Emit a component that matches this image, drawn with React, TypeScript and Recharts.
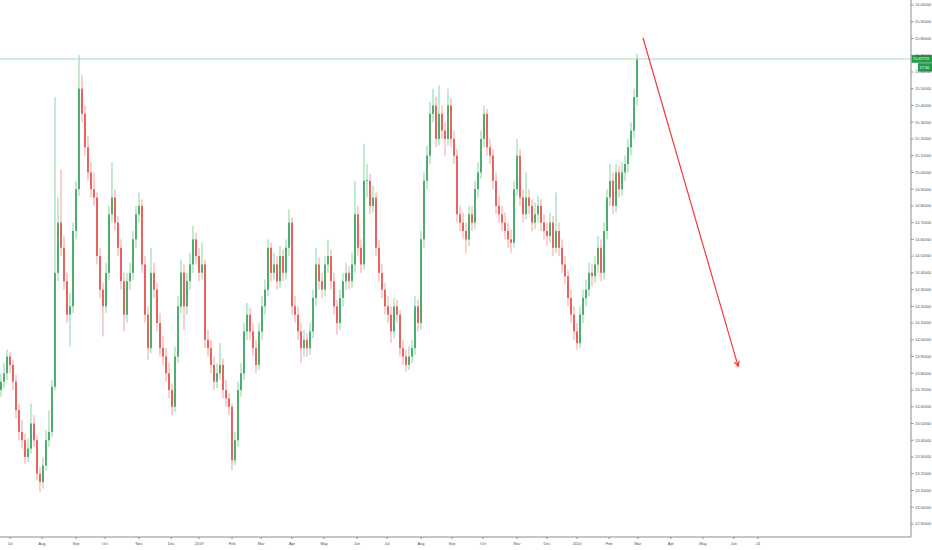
import React from "react";
import { ComposedChart, Bar, XAxis, YAxis, ReferenceLine } from "recharts";

// Daily-ish candles (each ~2 sessions), Jun 2018 - Mar 2020
const OPEN = [
  13.70, 13.75, 13.80, 13.90, 13.85, 13.75, 13.58, 13.45, 13.40, 13.30,
  13.35, 13.50, 13.40, 13.20, 13.15, 13.25, 13.40, 13.45, 13.72, 14.40,
  14.70, 14.55, 14.35, 14.15, 14.20, 14.65, 14.90, 15.50, 15.35, 15.15,
  15.00, 14.90, 14.85, 14.50, 14.30, 14.20, 14.40, 14.75, 14.85, 14.70,
  14.55, 14.35, 14.15, 14.35, 14.40, 14.60, 14.75, 14.80, 14.45, 14.15,
  13.95, 14.40, 14.30, 14.10, 13.95, 13.90, 13.80, 13.70, 13.60, 13.90,
  14.20, 14.40, 14.20, 14.35, 14.45, 14.60, 14.50, 14.40, 14.45, 14.00,
  13.95, 13.85, 13.75, 13.80, 13.85, 13.70, 13.65, 13.60, 13.28, 13.40,
  13.70, 13.80, 14.05, 14.15, 14.05, 13.95, 13.85, 14.05, 14.20, 14.30,
  14.55, 14.40, 14.45, 14.35, 14.50, 14.40, 14.55, 14.70, 14.20, 14.15,
  14.05, 13.95, 14.00, 13.95, 14.05, 14.25, 14.45, 14.35, 14.30, 14.45,
  14.50, 14.35, 14.20, 14.10, 14.25, 14.35, 14.40, 14.35, 14.45, 14.75,
  14.55, 14.45, 14.95, 14.95, 14.80, 14.85, 14.55, 14.40, 14.30, 14.20,
  14.15, 14.05, 14.20, 14.15, 13.95, 13.90, 13.85, 13.90, 13.95, 14.20,
  14.10, 14.60, 14.95, 15.10, 15.35, 15.40, 15.20, 15.35, 15.25, 15.20,
  15.40, 15.20, 15.10, 14.75, 14.70, 14.65, 14.60, 14.75, 14.70, 14.90,
  15.00, 15.20, 15.35, 15.15, 15.10, 14.95, 14.80, 14.75, 14.70, 14.65,
  14.60, 14.58, 14.90, 15.10, 14.85, 14.75, 14.85, 14.80, 14.70, 14.75,
  14.80, 14.70, 14.65, 14.62, 14.70, 14.55, 14.65, 14.55, 14.45, 14.38,
  14.25, 14.15, 14.05, 13.98, 14.15, 14.25, 14.30, 14.40, 14.38, 14.45,
  14.55, 14.40, 14.65, 14.85, 14.95, 14.80, 15.00, 14.90, 15.00, 15.05,
  15.15, 15.25, 15.45,
];
const HIGH = [
  13.80, 13.86, 13.94, 13.93, 13.88, 13.79, 13.62, 13.52, 13.44, 13.41,
  13.62, 13.55, 13.43, 13.24, 13.30, 13.46, 13.58, 13.76, 15.45, 14.85,
  15.02, 14.62, 14.40, 14.28, 14.70, 14.95, 15.70, 15.58, 15.40, 15.22,
  15.06, 15.00, 14.88, 14.55, 14.34, 14.46, 14.80, 15.06, 14.90, 14.74,
  14.60, 14.40, 14.40, 14.46, 14.65, 14.80, 14.88, 14.84, 14.50, 14.20,
  14.55, 14.46, 14.34, 14.16, 14.02, 13.95, 13.86, 13.74, 13.96, 14.26,
  14.48, 14.45, 14.40, 14.52, 14.68, 14.64, 14.55, 14.58, 14.48, 14.06,
  14.00, 13.90, 13.86, 13.98, 13.89, 13.76, 13.68, 13.62, 13.45, 13.75,
  13.86, 14.10, 14.22, 14.19, 14.10, 14.00, 14.10, 14.26, 14.36, 14.60,
  14.58, 14.52, 14.50, 14.56, 14.54, 14.60, 14.78, 14.73, 14.26, 14.20,
  14.10, 14.06, 14.04, 14.10, 14.30, 14.55, 14.49, 14.40, 14.50, 14.60,
  14.54, 14.40, 14.24, 14.30, 14.40, 14.46, 14.44, 14.52, 14.95, 14.80,
  14.60, 15.17, 15.05, 14.99, 14.92, 14.88, 14.60, 14.45, 14.34, 14.26,
  14.20, 14.25, 14.24, 14.18, 14.00, 13.94, 13.96, 14.00, 14.26, 14.24,
  14.65, 15.00, 15.16, 15.42, 15.50, 15.45, 15.52, 15.40, 15.30, 15.50,
  15.44, 15.25, 15.14, 14.80, 14.76, 14.70, 14.80, 14.80, 14.95, 15.06,
  15.25, 15.40, 15.38, 15.20, 15.14, 15.00, 14.86, 14.80, 14.76, 14.70,
  14.66, 14.95, 15.20, 15.14, 14.90, 15.00, 14.90, 14.84, 14.82, 14.86,
  14.84, 14.75, 14.70, 14.76, 14.74, 14.88, 14.70, 14.60, 14.50, 14.42,
  14.30, 14.20, 14.10, 14.20, 14.30, 14.36, 14.46, 14.45, 14.50, 14.62,
  14.60, 14.70, 14.90, 15.05, 15.00, 15.05, 15.04, 15.06, 15.10, 15.20,
  15.30, 15.50, 15.71,
];
const LOW = [
  13.66, 13.71, 13.76, 13.80, 13.70, 13.53, 13.40, 13.35, 13.26, 13.27,
  13.32, 13.36, 13.16, 13.09, 13.11, 13.22, 13.36, 13.42, 13.70, 14.35,
  14.50, 14.30, 14.10, 13.96, 14.16, 14.60, 14.86, 15.30, 15.10, 14.95,
  14.85, 14.80, 14.45, 14.25, 14.02, 14.16, 14.36, 14.70, 14.65, 14.50,
  14.30, 14.05, 14.10, 14.30, 14.36, 14.55, 14.70, 14.40, 14.10, 13.88,
  13.92, 14.25, 14.05, 13.90, 13.85, 13.75, 13.65, 13.55, 13.57, 13.86,
  14.16, 14.06, 14.15, 14.30, 14.40, 14.45, 14.35, 14.36, 13.95, 13.90,
  13.80, 13.70, 13.71, 13.76, 13.65, 13.60, 13.55, 13.22, 13.25, 13.36,
  13.66, 13.76, 14.00, 14.00, 13.90, 13.80, 13.82, 14.00, 14.15, 14.26,
  14.35, 14.36, 14.30, 14.31, 14.35, 14.36, 14.50, 14.15, 14.10, 14.00,
  13.86, 13.90, 13.90, 13.91, 14.01, 14.20, 14.30, 14.25, 14.26, 14.40,
  14.30, 14.15, 14.03, 14.06, 14.20, 14.30, 14.30, 14.31, 14.40, 14.50,
  14.40, 14.42, 14.85, 14.75, 14.76, 14.50, 14.35, 14.25, 14.15, 14.10,
  13.98, 14.01, 14.10, 13.90, 13.85, 13.81, 13.82, 13.86, 13.91, 14.05,
  14.06, 14.55, 14.90, 15.05, 15.30, 15.15, 15.16, 15.20, 15.10, 15.16,
  15.15, 15.05, 14.70, 14.65, 14.60, 14.52, 14.56, 14.65, 14.66, 14.85,
  14.96, 15.15, 15.10, 15.05, 14.90, 14.75, 14.70, 14.65, 14.60, 14.55,
  14.52, 14.55, 14.86, 14.80, 14.70, 14.72, 14.75, 14.65, 14.66, 14.70,
  14.65, 14.60, 14.56, 14.58, 14.50, 14.52, 14.50, 14.40, 14.33, 14.20,
  14.10, 14.00, 13.94, 13.95, 14.10, 14.20, 14.26, 14.32, 14.34, 14.40,
  14.35, 14.36, 14.60, 14.80, 14.75, 14.76, 14.85, 14.86, 14.95, 15.00,
  15.10, 15.20, 15.40,
];
const CLOSE = [
  13.75, 13.80, 13.90, 13.85, 13.75, 13.58, 13.45, 13.40, 13.30, 13.35,
  13.50, 13.40, 13.20, 13.15, 13.25, 13.40, 13.45, 13.72, 14.40, 14.70,
  14.55, 14.35, 14.15, 14.20, 14.65, 14.90, 15.50, 15.35, 15.15, 15.00,
  14.90, 14.85, 14.50, 14.30, 14.20, 14.40, 14.75, 14.85, 14.70, 14.55,
  14.35, 14.15, 14.35, 14.40, 14.60, 14.75, 14.80, 14.45, 14.15, 13.95,
  14.40, 14.30, 14.10, 13.95, 13.90, 13.80, 13.70, 13.60, 13.90, 14.20,
  14.40, 14.20, 14.35, 14.45, 14.60, 14.50, 14.40, 14.45, 14.00, 13.95,
  13.85, 13.75, 13.80, 13.85, 13.70, 13.65, 13.60, 13.28, 13.40, 13.70,
  13.80, 14.05, 14.15, 14.05, 13.95, 13.85, 14.05, 14.20, 14.30, 14.55,
  14.40, 14.45, 14.35, 14.50, 14.40, 14.55, 14.70, 14.20, 14.15, 14.05,
  13.95, 14.00, 13.95, 14.05, 14.25, 14.45, 14.35, 14.30, 14.45, 14.50,
  14.35, 14.20, 14.10, 14.25, 14.35, 14.40, 14.35, 14.45, 14.75, 14.55,
  14.45, 14.95, 14.95, 14.80, 14.85, 14.55, 14.40, 14.30, 14.20, 14.15,
  14.05, 14.20, 14.15, 13.95, 13.90, 13.85, 13.90, 13.95, 14.20, 14.10,
  14.60, 14.95, 15.10, 15.35, 15.40, 15.20, 15.35, 15.25, 15.20, 15.40,
  15.20, 15.10, 14.75, 14.70, 14.65, 14.60, 14.75, 14.70, 14.90, 15.00,
  15.20, 15.35, 15.15, 15.10, 14.95, 14.80, 14.75, 14.70, 14.65, 14.60,
  14.58, 14.90, 15.10, 14.85, 14.75, 14.85, 14.80, 14.70, 14.75, 14.80,
  14.70, 14.65, 14.62, 14.70, 14.55, 14.65, 14.55, 14.45, 14.38, 14.25,
  14.15, 14.05, 13.98, 14.15, 14.25, 14.30, 14.40, 14.38, 14.45, 14.55,
  14.40, 14.65, 14.85, 14.95, 14.80, 15.00, 14.90, 15.00, 15.05, 15.15,
  15.25, 15.45, 15.678,
];

// time axis (bar-index units, future area included)
const X_DOMAIN = [-0.33, 303.33];
const X_TICK_POS = [3.0, 13.7, 25, 34.7, 46, 56.7, 66, 77, 86.7, 97, 107.7, 118.7, 128.7, 140, 150.3, 160.7, 172, 182, 192, 202.7, 212.3, 223.3, 234, 244.3, 252.3];
const X_TICK_LABELS = ["Jul", "Aug", "Sep", "Oct", "Nov", "Dec", "2019", "Feb", "Mar", "Apr", "May", "Jun", "Jul", "Aug", "Sep", "Oct", "Nov", "Dec", "2020", "Feb", "Mar", "Apr", "May", "Jun", "24"];

const Y_DOMAIN = [12.822, 16.03];
const Y_TICKS = [12.9, 13.0, 13.1, 13.2, 13.3, 13.4, 13.5, 13.6, 13.7, 13.8, 13.9, 14.0, 14.1, 14.2, 14.3, 14.4, 14.5, 14.6, 14.7, 14.8, 14.9, 15.0, 15.1, 15.2, 15.3, 15.4, 15.5, 15.6, 15.7, 15.8, 15.9, 16.0];

const LAST_PRICE = 15.67772;
const LAST_PRICE_TEXT = "15.67772";
const COUNTDOWN_TEXT = "17:56";

// drawn arrow annotation (bar index, price)
const ARROW_START = { x: 214.0, y: 15.803 };
const ARROW_END = { x: 245.7, y: 13.843 };

const UP_BODY = "#1f9446";
const UP_WICK = "#86d6a0";
const DOWN_BODY = "#e2352f";
const DOWN_WICK = "#f5a0a0";
const FONT = "'Liberation Sans', Arial, sans-serif";

const data = CLOSE.map((c, i) => ({
  i,
  o: OPEN[i],
  h: HIGH[i],
  l: LOW[i],
  c,
  range: [LOW[i], HIGH[i]],
}));

const Candle = (props: any) => {
  const { x, y, width, height, payload } = props;
  if (x == null || y == null || !payload) return null;
  const top = Math.min(y, y + height);
  const bottom = Math.max(y, y + height);
  const span = payload.h - payload.l;
  const toPx = (p: number) => (span > 0 ? top + ((payload.h - p) / span) * (bottom - top) : top);
  const cx = x + width / 2;
  const up = payload.c >= payload.o;
  const yo = toPx(payload.o);
  const yc = toPx(payload.c);
  let bTop = Math.min(yo, yc);
  let bH = Math.abs(yo - yc);
  if (bH < 1) {
    bTop -= (1 - bH) / 2;
    bH = 1;
  }
  const bw = 1.4;
  return (
    <g>
      <line x1={cx} x2={cx} y1={top} y2={bottom} stroke={up ? UP_WICK : DOWN_WICK} strokeWidth={1} />
      <rect x={cx - bw / 2} y={bTop} width={bw} height={bH} fill={up ? UP_BODY : DOWN_BODY} />
    </g>
  );
};

const PriceLabel = (props: any) => {
  const vb = props.viewBox || {};
  const right = (vb.x || 0) + (vb.width || 0);
  const y = vb.y || 0;
  return (
    <g>
      <rect x={right + 0.5} y={y - 4} width={20.5} height={7.8} fill="#1e9e4b" />
      <text x={right + 2} y={y} dy="0.35em" fontSize={3.9} fill="#fff" fontFamily={FONT}>
        {LAST_PRICE_TEXT}
      </text>
      <rect x={right + 7} y={y + 4.2} width={14} height={8.4} fill="#1e9e4b" />
      <text x={right + 8.5} y={y + 8.4} dy="0.35em" fontSize={3.9} fill="#fff" fontFamily={FONT}>
        {COUNTDOWN_TEXT}
      </text>
    </g>
  );
};

const Arrow = (props: any) => {
  const { x1, y1, x2, y2 } = props;
  if ([x1, y1, x2, y2].some((v) => v == null || isNaN(v))) return null;
  const dx = x2 - x1;
  const dy = y2 - y1;
  const len = Math.sqrt(dx * dx + dy * dy) || 1;
  const ux = dx / len;
  const uy = dy / len;
  const head = 5;
  const ang = (28 * Math.PI) / 180;
  const rot = (a: number) => ({
    x: ux * Math.cos(a) - uy * Math.sin(a),
    y: ux * Math.sin(a) + uy * Math.cos(a),
  });
  const r1 = rot(ang);
  const r2 = rot(-ang);
  return (
    <g stroke="#f23b3b" strokeWidth={1.2} fill="none" strokeLinecap="round">
      <line x1={x1} y1={y1} x2={x2} y2={y2} />
      <line x1={x2} y1={y2} x2={x2 - r1.x * head} y2={y2 - r1.y * head} />
      <line x1={x2} y1={y2} x2={x2 - r2.x * head} y2={y2 - r2.y * head} />
    </g>
  );
};

export default function App() {
  return (
    <div style={{ position: "absolute", left: 0, top: 0, width: 932, height: 550, background: "#ffffff" }}>
      <ComposedChart width={932} height={550} data={data} margin={{ top: 0, right: 0, bottom: 0, left: 0 }}>
        <XAxis
          dataKey="i"
          type="number"
          domain={X_DOMAIN}
          allowDataOverflow
          ticks={X_TICK_POS}
          interval={0}
          tickFormatter={(v: number) => X_TICK_LABELS[X_TICK_POS.indexOf(v)] ?? ""}
          height={13}
          tickSize={2}
          tickMargin={3.5}
          stroke="#8c8c8c"
          tick={{ fontSize: 3.9, fill: "#505050", fontFamily: FONT }}
        />
        <YAxis
          orientation="right"
          type="number"
          domain={Y_DOMAIN}
          allowDataOverflow
          ticks={Y_TICKS}
          interval={0}
          width={21}
          tickSize={2.5}
          tickMargin={1.5}
          stroke="#8c8c8c"
          tickFormatter={(v: number) => v.toFixed(5)}
          tick={{ fontSize: 3.9, fill: "#505050", fontFamily: FONT }}
        />
        <Bar dataKey="range" barSize={3} isAnimationActive={false} shape={<Candle />} />
        <ReferenceLine
          y={LAST_PRICE}
          stroke="#a6dcb6"
          strokeWidth={1}
          ifOverflow="visible"
          label={<PriceLabel />}
        />
        <ReferenceLine
          segment={[ARROW_START, ARROW_END]}
          ifOverflow="visible"
          shape={<Arrow />}
        />
      </ComposedChart>
    </div>
  );
}
